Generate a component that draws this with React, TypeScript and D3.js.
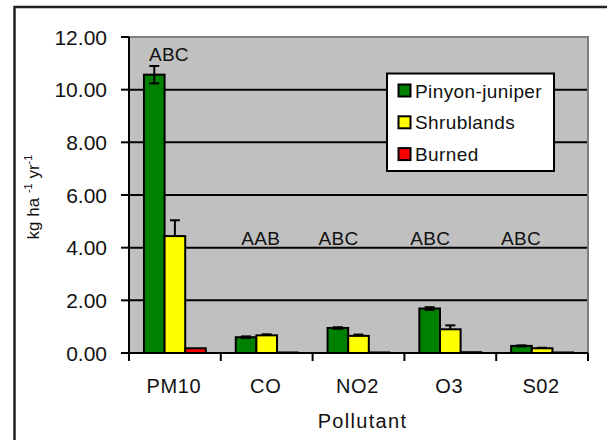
import { useEffect, useRef } from 'react';
import * as d3 from 'd3';

const categories = ['PM10', 'CO', 'NO2', 'O3', 'S02'];
const seriesNames = ['Pinyon-juniper', 'Shrublands', 'Burned'];
const pinyon = [10.57, 0.6, 0.95, 1.69, 0.27];
const pinyonErr = [0.33, 0.03, 0.03, 0.05, 0.02];
const shrub = [4.44, 0.67, 0.65, 0.9, 0.18];
const shrubErr = [0.6, 0.04, 0.05, 0.15, 0.02];
const burned = [0.18, 0.02, 0.02, 0.03, 0.02];
const letters = ['ABC', 'AAB', 'ABC', 'ABC', 'ABC'];
const letterLevel = [11.1, 4.1, 4.1, 4.1, 4.1];
const yTicks = [0, 2, 4, 6, 8, 10, 12];

const colors = ['#008000', '#ffff00', '#ff0000'];
const FONT = 'Liberation Sans, Arial, sans-serif';

function App() {
    const svgRef = useRef<SVGSVGElement>(null);

    useEffect(() => {
        if (!svgRef.current) return;
        const svg = d3.select(svgRef.current);
        svg.selectAll('*').remove();

        const plot = { left: 129, right: 588, top: 37, bottom: 353 };

        const x = d3.scaleBand<string>()
            .domain(categories)
            .range([plot.left, plot.right])
            .paddingInner(0.326)
            .paddingOuter(0.163);
        const inner = d3.scaleBand<string>().domain(seriesNames).range([0, x.bandwidth()]);
        const y = d3.scaleLinear().domain([0, 12]).range([plot.bottom, plot.top]);
        const step = x.step();

        // outer frame
        svg.append('rect')
            .attr('x', 14.5).attr('y', 7).attr('width', 620).attr('height', 460)
            .attr('fill', 'white').attr('stroke', '#222').attr('stroke-width', 2.5);

        // plot area
        svg.append('rect')
            .attr('x', plot.left).attr('y', plot.top)
            .attr('width', plot.right - plot.left).attr('height', plot.bottom - plot.top)
            .attr('fill', '#c0c0c0').attr('stroke', '#808080').attr('stroke-width', 2);

        // gridlines
        svg.append('g').selectAll('line')
            .data(yTicks.filter(t => t > 0 && t < 12))
            .join('line')
            .attr('x1', plot.left).attr('x2', plot.right - 1)
            .attr('y1', d => y(d)).attr('y2', d => y(d))
            .attr('stroke', 'black').attr('stroke-width', 2);

        // bars
        const values = [pinyon, shrub, burned];
        const errs = [pinyonErr, shrubErr, null];
        values.forEach((vals, si) => {
            const g = svg.append('g');
            g.selectAll('rect')
                .data(vals)
                .join('rect')
                .attr('x', (_, i) => x(categories[i])! + inner(seriesNames[si])!)
                .attr('y', d => y(d))
                .attr('width', inner.bandwidth())
                .attr('height', d => y(0) - y(d))
                .attr('fill', colors[si])
                .attr('stroke', 'black')
                .attr('stroke-width', 2);
            const e = errs[si];
            if (e) {
                vals.forEach((v, i) => {
                    const cx = x(categories[i])! + inner(seriesNames[si])! + inner.bandwidth() / 2;
                    const lo = si === 0 ? v - e[i] : v;
                    const hi = v + e[i];
                    g.append('line')
                        .attr('x1', cx).attr('x2', cx)
                        .attr('y1', y(lo)).attr('y2', y(hi))
                        .attr('stroke', 'black').attr('stroke-width', 2);
                    g.append('line')
                        .attr('x1', cx - 5).attr('x2', cx + 5)
                        .attr('y1', y(hi)).attr('y2', y(hi))
                        .attr('stroke', 'black').attr('stroke-width', 2);
                    if (si === 0) {
                        g.append('line')
                            .attr('x1', cx - 5).attr('x2', cx + 5)
                            .attr('y1', y(lo)).attr('y2', y(lo))
                            .attr('stroke', 'black').attr('stroke-width', 2);
                    }
                });
            }
        });

        // axes
        svg.append('line')
            .attr('x1', plot.left).attr('x2', plot.left)
            .attr('y1', plot.top).attr('y2', plot.bottom + 1)
            .attr('stroke', 'black').attr('stroke-width', 2);
        svg.append('line')
            .attr('x1', plot.left - 8).attr('x2', plot.right)
            .attr('y1', plot.bottom).attr('y2', plot.bottom)
            .attr('stroke', 'black').attr('stroke-width', 2);

        // y ticks and labels
        const yt = svg.append('g');
        yt.selectAll('line')
            .data(yTicks)
            .join('line')
            .attr('x1', plot.left - 8).attr('x2', plot.left)
            .attr('y1', d => y(d)).attr('y2', d => y(d))
            .attr('stroke', 'black').attr('stroke-width', 2);
        yt.selectAll('text')
            .data(yTicks)
            .join('text')
            .attr('x', 107)
            .attr('y', d => y(d) + 7.5)
            .attr('text-anchor', 'end')
            .attr('font-family', FONT)
            .attr('font-size', 21)
            .attr('fill', '#111')
            .text(d => d.toFixed(2));

        // x ticks and labels
        const bounds = categories.map(c => x(c)! - step * 0.163).concat([plot.right]);
        svg.append('g').selectAll('line')
            .data(bounds)
            .join('line')
            .attr('x1', d => d).attr('x2', d => d)
            .attr('y1', plot.bottom).attr('y2', plot.bottom + 8)
            .attr('stroke', 'black').attr('stroke-width', 2);
        svg.append('g').selectAll('text')
            .data(categories)
            .join('text')
            .attr('x', d => x(d)! + x.bandwidth() / 2 - 1)
            .attr('y', 393)
            .attr('text-anchor', 'middle')
            .attr('font-family', FONT)
            .attr('font-size', 20)
            .attr('letter-spacing', 0.6)
            .attr('fill', '#111')
            .text(d => d);

        // significance letters
        const labelShift = [-6, -6, -20, -20, -21];
        svg.append('g').selectAll('text')
            .data(letters)
            .join('text')
            .attr('x', (_, i) => x(categories[i])! + x.bandwidth() / 2 + labelShift[i])
            .attr('y', (_, i) => y(letterLevel[i]))
            .attr('text-anchor', 'middle')
            .attr('font-family', FONT)
            .attr('font-size', 19)
            .attr('letter-spacing', 0.3)
            .attr('fill', '#111')
            .text(d => d);

        // axis titles
        svg.append('text')
            .attr('x', (plot.left + plot.right) / 2 + 4)
            .attr('y', 428)
            .attr('text-anchor', 'middle')
            .attr('font-family', FONT)
            .attr('font-size', 20)
            .attr('letter-spacing', 1.3)
            .attr('fill', '#111')
            .text('Pollutant');

        const yTitle = svg.append('text')
            .attr('transform', `translate(39,${(plot.top + plot.bottom) / 2 + 2}) rotate(-90)`)
            .attr('text-anchor', 'middle')
            .attr('font-family', FONT)
            .attr('font-size', 17)
            .attr('fill', '#111');
        yTitle.append('tspan').text('kg ha ');
        yTitle.append('tspan').attr('dy', -7).attr('font-size', 11).text('-1');
        yTitle.append('tspan').attr('dy', 7).text(' yr');
        yTitle.append('tspan').attr('dy', -7).attr('font-size', 11).text('-1');

        // legend
        const legend = svg.append('g');
        legend.append('rect')
            .attr('x', 387).attr('y', 73.5).attr('width', 167).attr('height', 97.5)
            .attr('fill', 'white').attr('stroke', 'black').attr('stroke-width', 2);
        seriesNames.forEach((name, i) => {
            const cy = 90.5 + i * 31.8;
            legend.append('rect')
                .attr('x', 398.5).attr('y', cy - 6).attr('width', 12).attr('height', 12)
                .attr('fill', colors[i]).attr('stroke', 'black').attr('stroke-width', 2);
            legend.append('text')
                .attr('x', 415).attr('y', cy + 7)
                .attr('font-family', FONT)
                .attr('font-size', 19)
                .attr('letter-spacing', 0.4)
                .attr('fill', '#111')
                .text(name);
        });
    }, []);

    return (
        <svg ref={svgRef} width={607} height={440} style={{ position: 'absolute', left: 0, top: 0 }}></svg>
    );
}

export default App;
